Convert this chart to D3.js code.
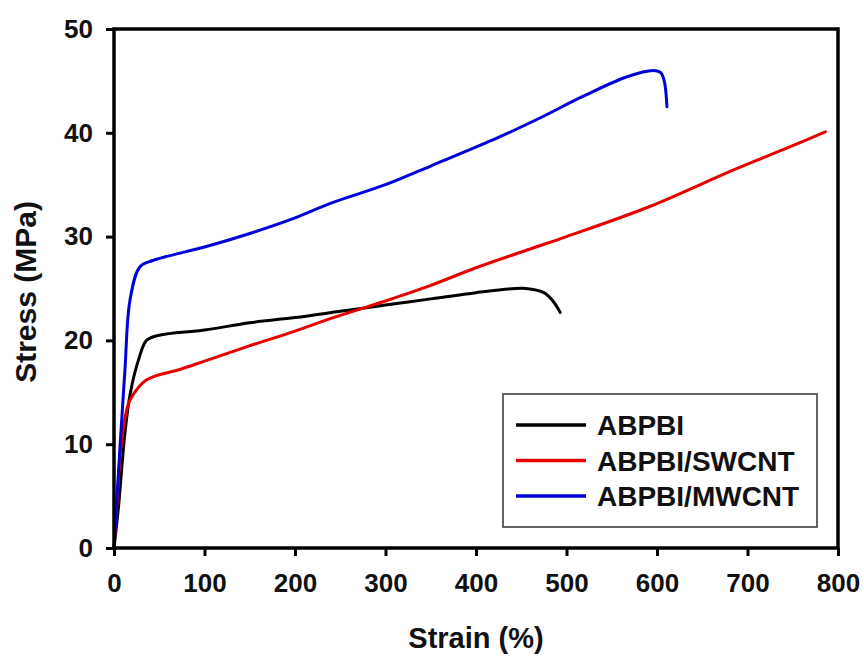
<!DOCTYPE html>
<html>
<head>
<meta charset="utf-8">
<script src="https://cdn.jsdelivr.net/npm/d3@7"></script>
<style>
  body { margin: 0; background: #fff; }
  text { font-family: "Liberation Sans", Arial, sans-serif; font-weight: bold; }
</style>
</head>
<body>
<svg id="chart" width="864" height="657"></svg>
<script>
// values
const seriesNames = ["ABPBI", "ABPBI/SWCNT", "ABPBI/MWCNT"];
const seriesColors = ["#000000", "#e80000", "#0000d8"];

const abpbiStrain = [0, 5, 12, 18, 27, 36, 50, 100, 150, 200, 250, 300, 350, 400, 430, 455, 475, 485, 493];
const abpbiStress = [0, 4, 11, 14.9, 18.1, 20.0, 20.5, 21.0, 21.7, 22.2, 22.8, 23.4, 24.0, 24.6, 24.9, 25.0, 24.6, 23.8, 22.7];

const swcntStrain = [0, 3, 8, 14, 18, 36, 73, 100, 147, 200, 239, 300, 350, 400, 463, 500, 592, 684, 740, 786];
const swcntStress = [0, 4, 10, 13.3, 14.3, 16.2, 17.2, 18.0, 19.4, 20.9, 22.1, 23.8, 25.3, 27.0, 28.9, 30.0, 32.9, 36.4, 38.4, 40.1];

const mwcntStrain = [0, 6.6, 12, 17.7, 28.7, 43, 100, 150, 200, 239, 300, 350, 426, 470, 518, 567, 596, 604, 608, 611];
const mwcntStress = [0, 9.7, 17, 23.9, 27.1, 27.7, 29.0, 30.3, 31.8, 33.2, 35.0, 36.8, 39.6, 41.4, 43.5, 45.4, 46.0, 45.8, 45.0, 42.5];

const xTicks = [0, 100, 200, 300, 400, 500, 600, 700, 800];
const yTicks = [0, 10, 20, 30, 40, 50];

const svg = d3.select("#chart");
const plotLeft = 114, plotRight = 838, plotTop = 29, plotBottom = 548;

const x = d3.scaleLinear().domain([0, 800]).range([plotLeft, plotRight]);
const y = d3.scaleLinear().domain([0, 50]).range([plotBottom, plotTop]);

const series = [
    { strain: abpbiStrain, stress: abpbiStress },
    { strain: swcntStrain, stress: swcntStress },
    { strain: mwcntStrain, stress: mwcntStress }
];

const line = d3.line()
    .x(d => x(d[0]))
    .y(d => y(d[1]))
    .curve(d3.curveCatmullRom.alpha(0.5));

// curves
series.forEach((s, i) => {
    const pts = s.strain.map((v, j) => [v, s.stress[j]]);
    svg.append("path")
        .attr("d", line(pts))
        .attr("fill", "none")
        .attr("stroke", seriesColors[i])
        .attr("stroke-width", 3)
        .attr("stroke-linejoin", "round")
        .attr("stroke-linecap", "round");
});

// frame
svg.append("rect")
    .attr("x", plotLeft).attr("y", plotTop)
    .attr("width", plotRight - plotLeft).attr("height", plotBottom - plotTop)
    .attr("fill", "none").attr("stroke", "#000").attr("stroke-width", 3.5);

// axes
const xAxis = svg.append("g")
    .attr("transform", `translate(0,${plotBottom})`)
    .call(d3.axisBottom(x).tickValues(xTicks).tickSize(8).tickPadding(18));
const yAxis = svg.append("g")
    .attr("transform", `translate(${plotLeft},0)`)
    .call(d3.axisLeft(y).tickValues(yTicks).tickSize(8).tickPadding(13));

[xAxis, yAxis].forEach(g => {
    g.select(".domain").remove();
    g.selectAll(".tick line").attr("stroke", "#000").attr("stroke-width", 3);
    g.selectAll(".tick text")
        .attr("fill", "#111")
        .style("font-size", "26px")
        .style("font-family", "'Liberation Sans', Arial, sans-serif")
        .style("font-weight", "bold");
});

// axis titles
svg.append("text")
    .attr("x", 476).attr("y", 648)
    .attr("text-anchor", "middle")
    .style("font-size", "29px")
    .attr("fill", "#111")
    .text("Strain (%)");

svg.append("text")
    .attr("transform", `translate(36,292) rotate(-90)`)
    .attr("text-anchor", "middle")
    .style("font-size", "30px")
    .attr("fill", "#111")
    .text("Stress (MPa)");

// legend
const legend = svg.append("g");
legend.append("rect")
    .attr("x", 503).attr("y", 394)
    .attr("width", 314).attr("height", 133)
    .attr("fill", "#fff").attr("stroke", "#333").attr("stroke-width", 1.5);

seriesNames.forEach((name, i) => {
    const ly = 425 + i * 35.5;
    legend.append("line")
        .attr("x1", 516).attr("x2", 586)
        .attr("y1", ly).attr("y2", ly)
        .attr("stroke", seriesColors[i]).attr("stroke-width", 3.5);
    legend.append("text")
        .attr("x", 597).attr("y", ly + 10)
        .style("font-size", "28px")
        .attr("fill", "#111")
        .text(name);
});
</script>
</body>
</html>
